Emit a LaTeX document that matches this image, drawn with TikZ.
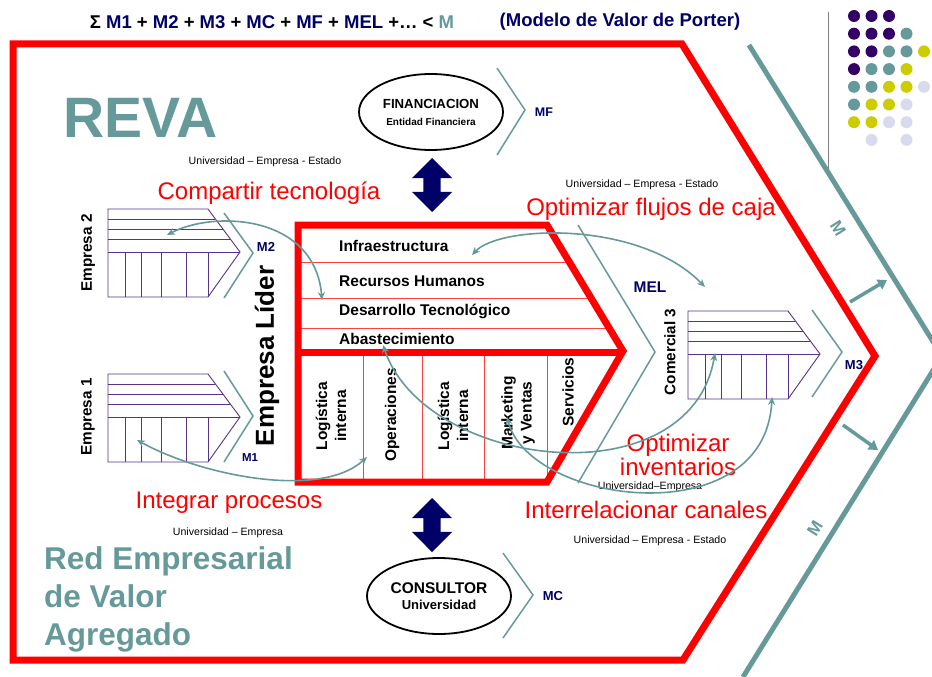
\documentclass[tikz,border=0pt]{standalone}
\usepackage{fontspec}
\setmainfont{Liberation Sans}
\usetikzlibrary{arrows.meta,shapes.arrows,shapes.geometric}
\definecolor{porterred}{RGB}{255,0,0}
\definecolor{tealgray}{RGB}{102,153,153}
\definecolor{navyblue}{RGB}{0,0,102}
\definecolor{firmline}{RGB}{85,50,140}
\definecolor{dP}{RGB}{51,0,102}
\definecolor{dT}{RGB}{102,153,153}
\definecolor{dY}{RGB}{204,204,0}
\definecolor{dL}{RGB}{218,218,238}

\tikzset{
  headline/.style={font=\bfseries\fontsize{18.5}{20}\selectfont},
  bigteal/.style={text=tealgray,font=\bfseries\fontsize{31.5}{38}\selectfont},
  redframe/.style={draw=porterred,line width=7pt,line join=miter},
  thinred/.style={draw=porterred!75,line width=0.9pt},
  outerline/.style={draw=tealgray,line width=5pt},
  gate/.style={draw=tealgray,line width=1.5pt},
  firm/.style={draw=firmline,line width=0.9pt},
  link/.style={draw=tealgray,line width=1.6pt,{Stealth[length=8pt,width=7pt]}-{Stealth[length=8pt,width=7pt]}},
  push/.style={draw=tealgray,line width=3.5pt,-{Triangle[length=9pt,width=11pt]}},
  goal/.style={text=porterred,font=\fontsize{24}{22}\selectfont,align=center},
  actor/.style={font=\fontsize{10.6}{12}\selectfont},
  mlabel/.style={text=navyblue,font=\bfseries\fontsize{13}{15}\selectfont},
  support/.style={font=\bfseries\fontsize{15.5}{18}\selectfont,anchor=west},
  activity/.style={font=\bfseries\fontsize{15.5}{19}\selectfont,rotate=90,align=center},
  firmname/.style={font=\bfseries\fontsize{15.3}{17}\selectfont,rotate=90},
  partner/.style={draw,line width=1.8pt,ellipse,minimum width=144pt,minimum height=76pt,align=center},
  bigarrow/.style={double arrow,fill=navyblue,inner sep=8.5pt,minimum height=54pt,
    double arrow head extend=11.5pt,rotate=90},
}

\begin{document}
\begin{tikzpicture}[x=1pt,y=-1pt,every node/.append style={inner sep=0pt}]
\clip (0,0) rectangle (932,677);

% heading
\node[headline] (sum) at (272,22) {Σ \textcolor{navyblue}{M1} + \textcolor{navyblue}{M2} + \textcolor{navyblue}{M3} + \textcolor{navyblue}{MC} + \textcolor{navyblue}{MF} + \textcolor{navyblue}{MEL} +… < \textcolor{tealgray}{M}};
\node[headline,text=navyblue] (porter) at (620,22) {(Modelo de Valor de Porter)};

% dots in the corner
\draw[gray,line width=1pt] (828,12) -- (828,170);
\foreach \c [count=\i from 0] in {dP,dP,dP,none,none, dP,dP,dP,dT,none, dP,dP,dT,dT,dY, dP,dT,dT,dY,none,
    dT,dT,dY,dY,dL, dT,dY,dY,dL,none, dY,dY,dL,dL,none, none,dL,none,dL,none}
  \path[fill=\c] ({854+17.5*mod(\i,5)},{16+17.7*int(\i/5)}) circle (6);

% outer frames
\draw[outerline] (749,45) -- (942,356) -- (743,677);
\draw[redframe] (13,44) -- (682,44) -- (875,356) -- (683,660) -- (13,660) -- cycle;
\node[bigteal,rotate=-58,font=\bfseries\fontsize{17}{17}\selectfont] (mtop) at (838,228) {M};
\node[bigteal,rotate=58,font=\bfseries\fontsize{17}{17}\selectfont] (mbot) at (815,528) {M};
\coordinate (pushA) at (850,302);
\coordinate (pushB) at (887,280);
\coordinate (pushC) at (843,425);
\coordinate (pushD) at (878,450);
\draw[push] (pushA) -- (pushB);
\draw[push] (pushC) -- (pushD);

\node[anchor=base west,text=tealgray,font=\bfseries\fontsize{57}{57}\selectfont] (reva) at (63,137) {REVA};
\node[bigteal,align=left,anchor=base west] (rev) at (44,645) {Red Empresarial\\de Valor\\Agregado};

% partners
\node[partner] (fin) at (431,112) {{\bfseries\fontsize{13.2}{15}\selectfont FINANCIACION}\\[5pt]{\bfseries\fontsize{10}{12}\selectfont Entidad Financiera}};
\node[partner] (con) at (439,596) {{\bfseries\fontsize{15.5}{17}\selectfont CONSULTOR}\\[4pt]{\bfseries\fontsize{13}{15}\selectfont Universidad}};
\node[bigarrow] (finlink) at (432,185) {};
\node[bigarrow] (conlink) at (432,525) {};
\draw[gate] (497,68) -- (525,110) -- (497,155);
\node[mlabel,font=\bfseries\fontsize{12.5}{14}\selectfont] (mf) at (544,112) {MF};
\draw[gate] (503,553) -- (533,595) -- (503,638);
\node[mlabel] (mc) at (553,596) {MC};

% firms
\foreach \fx/\fy in {108/209,108/374,688/311}{
  \draw[firm] (\fx,\fy) -- ++(100,0) -- ++(32,43) -- ++(-32,45) -- ++(-100,0) -- cycle;
  \foreach \h in {10,20,30,43}
    \draw[firm] (\fx,\fy+\h) -- ({\fx+100+32*\h/43},\fy+\h);
  \foreach \v in {17,33,53,78,100}
    \draw[firm] (\fx+\v,\fy+43) -- (\fx+\v,\fy+88);
}
\node[firmname] (emp2) at (88,253) {Empresa 2};
\node[firmname] (emp1) at (88,417) {Empresa 1};
\node[firmname] (com3) at (670,352) {Comercial 3};
\draw[gate] (224,213) -- (253,253) -- (224,298);
\node[mlabel] (m2) at (266,247) {M2};
\draw[gate] (224,371) -- (253,416) -- (224,462);
\node[mlabel,font=\bfseries\fontsize{11.5}{13}\selectfont] (m1) at (250,458) {M1};
\draw[gate] (812,310) -- (842,352) -- (812,397);
\node[mlabel] (m3) at (854,365) {M3};
\draw[gate] (578,225) -- (655,352) -- (578,483);
\node[mlabel,font=\bfseries\fontsize{15.5}{17}\selectfont] (mel) at (650,287) {MEL};

% leading firm value chain
\node[font=\bfseries\fontsize{26}{28}\selectfont,rotate=90] (lider) at (267,356) {Empresa Líder};
\draw[thinred] (298,262) -- (569,262);
\draw[thinred] (298,298) -- (591,298);
\draw[thinred] (298,328) -- (609,328);
\foreach \v in {363,422,484,547}
  \draw[thinred] (\v,352) -- (\v,482);
\draw[redframe] (298,225) -- (547,225) -- (623,351) -- (547,482) -- (298,482) -- cycle;
\draw[redframe] (298,352) -- (623,352);
\node[support] (infr) at (339,246) {Infraestructura};
\node[support] (rrhh) at (339,281) {Recursos Humanos};
\node[support] (dtec) at (339,311) {Desarrollo Tecnológico};
\node[support] (abas) at (339,339) {Abastecimiento};
\node[activity] (login) at (331,416) {Logística\\interna};
\node[activity] (oper) at (392,415) {Operaciones};
\node[activity] (logout) at (453,416) {Logística\\interna};
\node[activity] (mkv) at (518,413) {Marketing\\y Ventas};
\node[activity] (serv) at (568,392) {Servicios};

% goals
\node[goal] (share) at (269,193) {Compartir tecnología};
\node[goal] (cash) at (651,209) {Optimizar flujos de caja};
\node[goal] (stock) at (678,455) {Optimizar\\inventarios};
\node[goal] (chan) at (646,510) {Interrelacionar canales};
\node[goal] (proc) at (229,503) {Integrar procesos};
\node[actor] (uee1) at (265,162) {Universidad – Empresa - Estado};
\node[actor] (uee2) at (642,185) {Universidad – Empresa - Estado};
\node[actor] (ue1) at (650,487) {Universidad–Empresa};
\node[actor] (uee3) at (650,541) {Universidad – Empresa - Estado};
\node[actor] (ue2) at (228,533) {Universidad – Empresa};

% links
\coordinate (e2in) at (167,235);
\coordinate (tecin) at (322,300);
\coordinate (infin) at (472,255);
\coordinate (melin) at (705,287);
\coordinate (e1in) at (137,440);
\coordinate (opin) at (367,457);
\coordinate (abin) at (383,345);
\coordinate (c3a) at (715,353);
\coordinate (mkin) at (507,417);
\coordinate (c3b) at (772,397);
\draw[link] (e2in) .. controls (215,210) and (315,215) .. (tecin);
\draw[link] (infin) .. controls (500,225) and (640,220) .. (melin);
\draw[link] (e1in) .. controls (200,475) and (320,500) .. (opin);
\draw[link] (abin) .. controls (425,470) and (690,500) .. (c3a);
\draw[link] (mkin) .. controls (530,505) and (765,535) .. (c3b);
\end{tikzpicture}
\end{document}
